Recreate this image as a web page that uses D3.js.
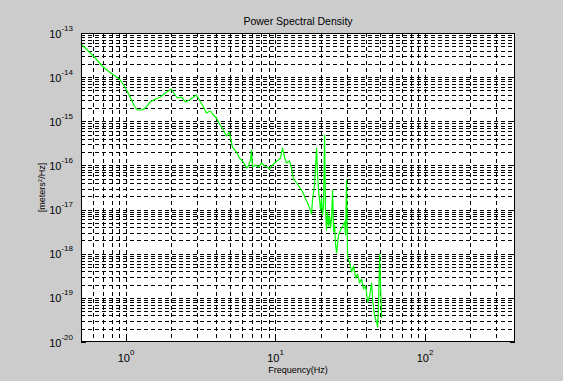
<!DOCTYPE html>
<html>
<head>
<meta charset="utf-8">
<script src="https://cdn.jsdelivr.net/npm/d3@7/dist/d3.min.js"></script>
<style>
  html, body { margin: 0; padding: 0; background: #cccccc; }
  svg { display: block; font-family: "Liberation Sans", Arial, sans-serif; }
</style>
</head>
<body>
<svg id="chart" width="563" height="381"></svg>
<script>
// Spectrum samples: frequency (Hz) and power spectral density (m^2/Hz)
const freq = [
  0.5, 0.551, 0.613, 0.694, 0.773, 0.848, 0.916, 0.974, 1.052, 1.137,
  1.19, 1.286, 1.368, 1.455, 1.572, 1.697, 1.833, 2.011, 2.106, 2.206,
  2.346, 2.496, 2.655, 2.958, 3.097, 3.244, 3.451, 3.669, 3.784, 4.025,
  4.216, 4.484, 4.697, 4.919, 5.152, 5.481, 5.741, 6.012, 6.201, 6.395,
  6.595, 6.802, 6.908, 7.015, 7.347, 7.694, 8.058, 8.442, 8.842, 9.117,
  9.548, 10.0, 10.47, 10.8, 11.14, 11.49, 11.85, 12.41, 12.8, 13.2,
  13.83, 14.48, 14.94, 15.4, 15.89, 16.38, 16.9, 17.42, 17.69, 18.25,
  18.82, 19.11, 19.41, 19.71, 20.02, 20.33, 20.64, 20.97, 21.29, 21.62,
  21.96, 22.3, 22.65, 23.0, 23.36, 23.72, 24.09, 24.46, 24.85, 25.23,
  25.62, 26.42, 27.25, 28.1, 28.98, 29.43, 29.89, 30.35, 31.3, 32.28,
  33.3, 34.34, 35.42, 36.52, 37.67, 38.85, 40.07, 41.33, 42.62, 43.95,
  44.64, 46.04, 47.48, 48.22, 48.97, 49.74, 50.51, 51.29
];
const psd = [
  5.63e-14, 4.12e-14, 2.86e-14, 1.79e-14, 1.31e-14, 1.06e-14, 8.61e-15, 6.30e-15, 3.94e-15, 2.22e-15,
  1.80e-15, 1.80e-15, 2.11e-15, 2.74e-15, 3.20e-15, 3.55e-15, 4.37e-15, 5.39e-15, 4.15e-15, 3.37e-15,
  3.55e-15, 2.74e-15, 3.03e-15, 3.94e-15, 3.03e-15, 2.34e-15, 1.54e-15, 1.71e-15, 1.46e-15, 1.19e-15,
  8.67e-16, 6.34e-16, 4.64e-16, 5.71e-16, 2.61e-16, 2.01e-16, 1.47e-16, 1.26e-16, 1.08e-16, 8.73e-17,
  9.70e-17, 1.33e-16, 2.23e-16, 9.20e-17, 1.02e-16, 9.20e-17, 1.14e-16, 9.70e-17, 9.20e-17, 8.30e-17,
  1.02e-16, 1.19e-16, 1.33e-16, 1.47e-16, 2.48e-16, 1.55e-16, 1.14e-16, 1.26e-16, 8.73e-17, 4.92e-17,
  4.00e-17, 3.24e-17, 2.77e-17, 2.25e-17, 1.73e-17, 1.41e-17, 1.08e-17, 7.93e-18, 1.65e-17, 3.60e-17,
  2.48e-16, 6.07e-17, 2.77e-17, 1.65e-17, 9.77e-18, 1.83e-17, 7.53e-18, 1.27e-17, 4.89e-16, 9.77e-18,
  3.44e-18, 8.81e-18, 4.25e-18, 7.14e-18, 3.82e-18, 6.44e-18, 2.77e-17, 3.10e-18, 4.47e-18, 1.57e-18,
  1.04e-18, 2.65e-18, 3.44e-18, 4.25e-18, 5.23e-18, 2.65e-18, 4.67e-17, 8.00e-19, 6.49e-19, 3.85e-19,
  5.26e-19, 2.82e-19, 3.47e-19, 2.17e-19, 2.67e-19, 1.59e-19, 1.85e-19, 8.05e-20, 1.10e-19, 2.17e-19,
  8.93e-20, 3.88e-20, 2.84e-20, 2.18e-20, 8.93e-20, 9.84e-19, 1.51e-19, 3.49e-20
];

// Axis limits and decade tick exponents
const xLimits = [0.5, 400];
const yLimits = [1e-20, 1e-13];
const xTickExps = [0, 1, 2];
const yTickExps = [-20, -19, -18, -17, -16, -15, -14, -13];

const titleText = "Power Spectral Density";
const xLabelText = "Frequency(Hz)";

const W = 563, H = 381;
const plot = { left: 81, right: 515, top: 33, bottom: 342 };

const svg = d3.select("#chart");

svg.append("rect").attr("width", W).attr("height", H).attr("fill", "#cccccc");

const x = d3.scaleLog().domain(xLimits).range([plot.left, plot.right]);
const y = d3.scaleLog().domain(yLimits).range([plot.bottom, plot.top]);

// axes background
svg.append("rect")
  .attr("x", plot.left).attr("y", plot.top)
  .attr("width", plot.right - plot.left).attr("height", plot.bottom - plot.top)
  .attr("fill", "#ffffff");

// log grid: every 1..9 multiple of each decade
function logGridValues(lo, hi) {
  const out = [];
  for (let e = Math.floor(Math.log10(lo)); e <= Math.ceil(Math.log10(hi)); e++) {
    for (let m = 1; m <= 9; m++) {
      const v = m * Math.pow(10, e);
      if (v > lo * 1.0001 && v < hi * 0.9999) out.push(v);
    }
  }
  return out;
}

const grid = svg.append("g")
  .attr("stroke", "#000")
  .attr("stroke-width", 1)
  .attr("stroke-dasharray", "4,3")
  .attr("shape-rendering", "crispEdges");

grid.selectAll("line.vx").data(logGridValues(xLimits[0], xLimits[1])).join("line")
  .attr("class", "vx")
  .attr("x1", d => Math.round(x(d)) + 0.5).attr("x2", d => Math.round(x(d)) + 0.5)
  .attr("y1", plot.top).attr("y2", plot.bottom);

grid.selectAll("line.hy").data(logGridValues(yLimits[0], yLimits[1])).join("line")
  .attr("class", "hy")
  .attr("y1", d => Math.round(y(d)) + 0.5).attr("y2", d => Math.round(y(d)) + 0.5)
  .attr("x1", plot.left).attr("x2", plot.right);

// spectrum trace
const line = d3.line()
  .x((d, i) => x(freq[i]))
  .y(d => y(d));

svg.append("path")
  .datum(psd)
  .attr("fill", "none")
  .attr("stroke", "#00ff00")
  .attr("stroke-width", 1.2)
  .attr("stroke-linejoin", "round")
  .attr("d", line);

// axes box
svg.append("rect")
  .attr("x", plot.left + 0.5).attr("y", plot.top + 0.5)
  .attr("width", plot.right - plot.left - 1).attr("height", plot.bottom - plot.top - 1)
  .attr("fill", "none").attr("stroke", "#000").attr("stroke-width", 1)
  .attr("shape-rendering", "crispEdges");

// major tick marks inside the box
const ticks = svg.append("g").attr("stroke", "#000").attr("shape-rendering", "crispEdges");
xTickExps.forEach(e => {
  const px = Math.round(x(Math.pow(10, e))) + 0.5;
  ticks.append("line").attr("x1", px).attr("x2", px).attr("y1", plot.bottom).attr("y2", plot.bottom - 5);
  ticks.append("line").attr("x1", px).attr("x2", px).attr("y1", plot.top).attr("y2", plot.top + 5);
});
yTickExps.forEach(e => {
  const py = Math.round(y(Math.pow(10, e))) + 0.5;
  ticks.append("line").attr("y1", py).attr("y2", py).attr("x1", plot.left).attr("x2", plot.left + 5);
  ticks.append("line").attr("y1", py).attr("y2", py).attr("x1", plot.right).attr("x2", plot.right - 5);
});

// tick labels with superscript exponents
function powerLabel(g, e) {
  g.append("tspan").text("10");
  g.append("tspan").attr("dy", -7).attr("font-size", 8).text(String(e));
}

yTickExps.forEach(e => {
  const t = svg.append("text")
    .attr("x", plot.left - 8)
    .attr("y", y(Math.pow(10, e)) + 4.5)
    .attr("text-anchor", "end")
    .attr("font-size", 11)
    .attr("fill", "#000");
  powerLabel(t, e);
});

xTickExps.forEach(e => {
  const t = svg.append("text")
    .attr("x", x(Math.pow(10, e)))
    .attr("y", plot.bottom + 20)
    .attr("text-anchor", "middle")
    .attr("font-size", 11)
    .attr("fill", "#000");
  powerLabel(t, e);
});

// title and axis labels
svg.append("text")
  .attr("x", (plot.left + plot.right) / 2)
  .attr("y", plot.top - 8)
  .attr("text-anchor", "middle")
  .attr("font-size", 10.5)
  .attr("fill", "#000")
  .text(titleText);

svg.append("text")
  .attr("x", (plot.left + plot.right) / 2)
  .attr("y", plot.bottom + 31)
  .attr("text-anchor", "middle")
  .attr("font-size", 9)
  .attr("fill", "#000")
  .text(xLabelText);

const yl = svg.append("text")
  .attr("transform", `translate(45,${(plot.top + plot.bottom) / 2}) rotate(-90)`)
  .attr("text-anchor", "middle")
  .attr("font-size", 9)
  .attr("fill", "#000");
yl.append("tspan").text("[meters");
yl.append("tspan").attr("dy", -3).attr("font-size", 6).text("2");
yl.append("tspan").attr("dy", 3).text("/Hz]");
</script>
</body>
</html>
